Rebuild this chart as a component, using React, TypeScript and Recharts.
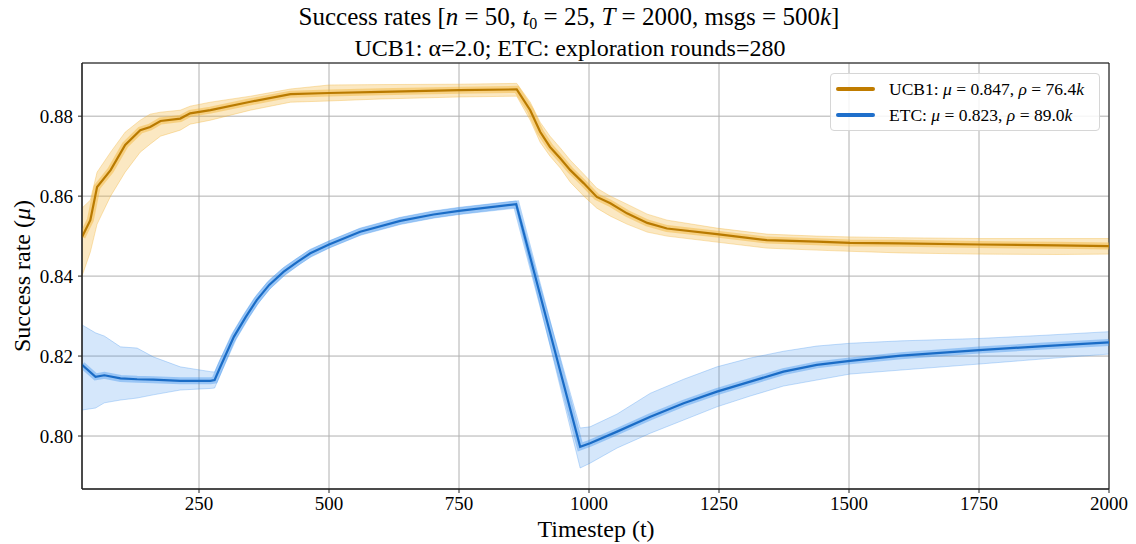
import React from 'react';
import { ComposedChart, Line, Area, XAxis, YAxis, CartesianGrid, ReferenceArea } from 'recharts';

// UCB1 runs: mean curve plus the spread of the individual runs
const ucbX = [25, 41, 54, 80, 108, 137, 156, 176, 214, 233, 272, 349, 426, 500, 600, 750, 861, 887, 906, 925, 945, 964, 990, 1015, 1041, 1073, 1112, 1150, 1246, 1342, 1438, 1502, 1598, 1750, 1900, 2000];
const ucbMean = [0.8498, 0.854, 0.8623, 0.8665, 0.8728, 0.8765, 0.8773, 0.8788, 0.8794, 0.8807, 0.8815, 0.8836, 0.8855, 0.8858, 0.8861, 0.8865, 0.8867, 0.8815, 0.8761, 0.8723, 0.8694, 0.8665, 0.8632, 0.8598, 0.8582, 0.8557, 0.8533, 0.8519, 0.8505, 0.849, 0.8486, 0.8483, 0.8482, 0.8479, 0.8477, 0.8475];
const ucbHi = [0.857, 0.859, 0.866, 0.871, 0.876, 0.879, 0.8805, 0.881, 0.8815, 0.8825, 0.8835, 0.885, 0.8868, 0.8878, 0.8879, 0.888, 0.8882, 0.8835, 0.8785, 0.875, 0.872, 0.869, 0.8655, 0.862, 0.86, 0.858, 0.8555, 0.854, 0.852, 0.8505, 0.85, 0.8498, 0.8496, 0.8494, 0.8494, 0.8494];
const ucbLo = [0.84, 0.846, 0.853, 0.86, 0.866, 0.871, 0.873, 0.875, 0.8765, 0.878, 0.879, 0.8815, 0.8835, 0.8838, 0.8843, 0.8848, 0.885, 0.879, 0.8735, 0.87, 0.867, 0.8635, 0.86, 0.857, 0.855, 0.853, 0.851, 0.85, 0.8485, 0.847, 0.8465, 0.8462, 0.8458, 0.8455, 0.8454, 0.8455];

// ETC runs
const etcX = [25, 51, 68, 99, 131, 162, 214, 272, 280, 290, 317, 340, 361, 385, 413, 440, 464, 500, 560, 637, 701, 750, 860, 983, 1002, 1054, 1118, 1182, 1246, 1310, 1374, 1438, 1502, 1600, 1750, 1875, 2000];
const etcMean = [0.8178, 0.8148, 0.8152, 0.8144, 0.8142, 0.8141, 0.8138, 0.8138, 0.814, 0.817, 0.8248, 0.8298, 0.834, 0.8378, 0.8411, 0.8436, 0.8457, 0.8479, 0.8511, 0.8538, 0.8554, 0.8563, 0.858, 0.7973, 0.7982, 0.8011, 0.8048, 0.8082, 0.8111, 0.8136, 0.8161, 0.8178, 0.8188, 0.8201, 0.8215, 0.8225, 0.8234];
const etcHi = [0.8278, 0.8258, 0.825, 0.8223, 0.822, 0.8198, 0.8173, 0.8161, 0.816, 0.819, 0.8262, 0.8311, 0.8353, 0.839, 0.8422, 0.8446, 0.8467, 0.8488, 0.852, 0.8547, 0.8563, 0.8572, 0.8588, 0.802, 0.8023, 0.8055, 0.8107, 0.8142, 0.8173, 0.8195, 0.8212, 0.8225, 0.8232, 0.8238, 0.8244, 0.8252, 0.8261];
const etcLo = [0.8065, 0.807, 0.8083, 0.809, 0.8095, 0.8103, 0.8115, 0.8119, 0.812, 0.815, 0.8234, 0.8285, 0.8327, 0.8366, 0.84, 0.8426, 0.8447, 0.847, 0.8502, 0.8529, 0.8545, 0.8554, 0.857, 0.792, 0.7932, 0.797, 0.8007, 0.804, 0.8073, 0.81, 0.8125, 0.814, 0.8155, 0.8165, 0.818, 0.8193, 0.8205];

const xTicks = [250, 500, 750, 1000, 1250, 1500, 1750, 2000];
const yTicks = [0.8, 0.82, 0.84, 0.86, 0.88];
const xDomain = [25, 2000];
const yDomain = [0.78675, 0.8933];

const SERIF = '"Liberation Serif", "DejaVu Serif", serif';
const UCB_LINE = '#b97a00';
const UCB_BAND = '#f2b334';
const ETC_LINE = '#1a6cc6';
const ETC_BAND = '#3f93ee';

const ucbRows = ucbX.map((x, i) => ({ x, mean: ucbMean[i], band: [ucbLo[i], ucbHi[i]] }));
const etcRows = etcX.map((x, i) => ({ x, mean: etcMean[i], band: [etcLo[i], etcHi[i]] }));

const tickStyle = { fontSize: 19, fill: '#000', fontFamily: SERIF };

const LegendRow = ({ color, name, mu, rho }: { color: string; name: string; mu: string; rho: string }) => (
  <div style={{ display: 'flex', alignItems: 'center', height: 26 }}>
    <div style={{ width: 39, height: 3.5, background: color, borderRadius: 2, marginRight: 14 }} />
    <span style={{ whiteSpace: 'nowrap' }}>
      {name}: <i>μ</i>{' = 0.'}{mu}, <i>ρ</i>{' = '}{rho}<i>k</i>
    </span>
  </div>
);

export default function App() {
  return (
    <div style={{ position: 'absolute', left: 0, top: 0, width: 1136, height: 544, background: '#fff', fontFamily: SERIF }}>
      <ComposedChart width={1136} height={544} margin={{ top: 63, right: 27, bottom: 25, left: 22 }}>
        <CartesianGrid stroke="#b0b0b0" strokeWidth={1} />
        <XAxis
          dataKey="x"
          type="number"
          domain={xDomain}
          ticks={xTicks}
          allowDataOverflow
          height={30}
          tick={tickStyle}
          tickSize={4}
          tickMargin={4}
          stroke="#222"
        />
        <YAxis
          type="number"
          domain={yDomain}
          ticks={yTicks}
          allowDataOverflow
          width={60}
          tick={tickStyle}
          tickSize={4}
          tickMargin={5}
          tickFormatter={(v: number) => v.toFixed(2)}
          stroke="#222"
        />
        <Area data={ucbRows} dataKey="band" type="linear" stroke={UCB_BAND} strokeOpacity={0.35} strokeWidth={1} fill={UCB_BAND} fillOpacity={0.3} isAnimationActive={false} />
        <Area data={etcRows} dataKey="band" type="linear" stroke={ETC_BAND} strokeOpacity={0.3} strokeWidth={1} fill={ETC_BAND} fillOpacity={0.22} isAnimationActive={false} />
        <Line data={ucbRows} dataKey="mean" type="linear" stroke={UCB_BAND} strokeOpacity={0.45} strokeWidth={7} dot={false} isAnimationActive={false} />
        <Line data={etcRows} dataKey="mean" type="linear" stroke={ETC_BAND} strokeOpacity={0.4} strokeWidth={7} dot={false} isAnimationActive={false} />
        <Line data={ucbRows} dataKey="mean" type="linear" stroke={UCB_LINE} strokeWidth={2.2} dot={false} isAnimationActive={false} />
        <Line data={etcRows} dataKey="mean" type="linear" stroke={ETC_LINE} strokeWidth={2.2} dot={false} isAnimationActive={false} />
        <ReferenceArea x1={xDomain[0]} x2={xDomain[1]} y1={yDomain[0]} y2={yDomain[1]} fill="none" stroke="#111" strokeWidth={1} />
      </ComposedChart>

      <svg width={1136} height={544} style={{ position: 'absolute', left: 0, top: 0, pointerEvents: 'none' }} fontFamily={SERIF}>
        <text x={569} y={25} fontSize={25} textAnchor="middle">
          Success rates [<tspan fontStyle="italic">n</tspan> = 50, <tspan fontStyle="italic">t</tspan>
          <tspan fontSize={16} dy={4}>0</tspan>
          <tspan dy={-4}> = 25, </tspan>
          <tspan fontStyle="italic">T</tspan> = 2000, msgs = 500<tspan fontStyle="italic">k</tspan>]
        </text>
        <text x={570} y={56} fontSize={24} textAnchor="middle">
          UCB1: α=2.0; ETC: exploration rounds=280
        </text>
        <text x={596} y={537} fontSize={24} textAnchor="middle">
          Timestep (t)
        </text>
        <text x={30} y={276} fontSize={24} textAnchor="middle" transform="rotate(-90 30 276)">
          Success rate (<tspan fontStyle="italic">μ</tspan>)
        </text>
      </svg>

      <div
        style={{
          position: 'absolute',
          left: 830,
          top: 73,
          width: 258,
          height: 52,
          padding: '2px 5px',
          border: '1px solid #d6d6d6',
          borderRadius: 4,
          background: 'rgba(255,255,255,0.85)',
          fontSize: 17.5,
          color: '#000',
        }}
      >
        <LegendRow color="#c07c00" name="UCB1" mu="847" rho="76.4" />
        <LegendRow color="#1f6fcb" name="ETC" mu="823" rho="89.0" />
      </div>
    </div>
  );
}
